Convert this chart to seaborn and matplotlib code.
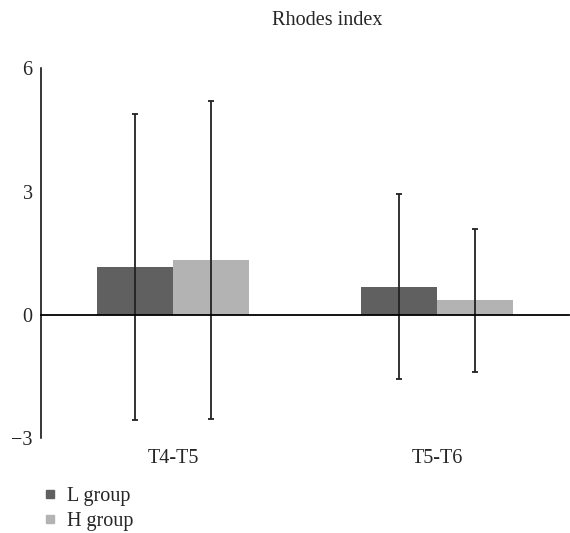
import numpy as np
import pandas as pd
import matplotlib
matplotlib.use("Agg")
import matplotlib.pyplot as plt
import seaborn as sns

sns.set_style("white")
plt.rcParams["font.family"] = ["Liberation Serif", "DejaVu Serif"]

periods = ["T4-T5", "T5-T6"]
groups = ["L group", "H group"]
l_mean = [1.17, 0.68]
h_mean = [1.33, 0.36]
l_sd = [3.72, 2.25]
h_sd = [3.87, 1.74]

df = pd.DataFrame({
    "period": periods * 2,
    "group": [groups[0]] * 2 + [groups[1]] * 2,
    "value": l_mean + h_mean,
})
sds = l_sd + h_sd

fs = 14.5

fig = plt.figure(figsize=(5.7, 5.33), dpi=100)
ax = fig.add_axes([0.072, 0.178, 0.926, 0.694])

sns.barplot(data=df, x="period", y="value", hue="group", order=periods,
            hue_order=groups, palette=["#606060", "#b3b3b3"], width=0.575,
            errorbar=None, edgecolor="none", saturation=1, ax=ax, legend=False)

# error bars at bar centres (patches come in hue order)
bars = ax.patches[:4]
xs = [b.get_x() + b.get_width() / 2 for b in bars]
ys = [b.get_height() for b in bars]
ax.errorbar(xs, ys, yerr=sds, fmt="none", ecolor="#222222", elinewidth=1.3,
            capsize=2, capthick=1.3)

ax.set_xlim(-0.5, 1.5)
ax.set_ylim(-3, 6)
ax.set_yticks([6, 3, 0, -3])
ax.set_yticklabels(["6", "3", "0", "\u22123"], fontsize=fs)
ax.tick_params(axis="y", length=0, pad=6)

for s in ["top", "right"]:
    ax.spines[s].set_visible(False)
ax.spines["left"].set_color("black")
ax.spines["left"].set_linewidth(1.1)
ax.spines["bottom"].set_position(("data", 0))
ax.spines["bottom"].set_color("black")
ax.spines["bottom"].set_linewidth(1.3)
ax.set_xticks([-0.5, 0.5, 1.5])
ax.set_xticklabels([])
ax.tick_params(axis="x", direction="out", length=3, width=1.2, color="black")

sec = ax.secondary_xaxis("bottom")
sec.set_xticks([0, 1])
sec.set_xticklabels(periods, fontsize=fs)
sec.tick_params(length=0, pad=8)
sec.spines["bottom"].set_visible(False)

ax.set_xlabel("")
ax.set_ylabel("")

fig.text(0.574, 0.961, "Rhodes index", ha="center", va="center", fontsize=fs)

handles = [plt.Line2D([], [], marker="s", linestyle="none", markersize=5.5,
                      color=c) for c in ["#606060", "#b3b3b3"]]
fig.legend(handles, groups, loc="upper left", bbox_to_anchor=(0.074, 0.086),
           frameon=False, fontsize=fs, handletextpad=0.45, labelspacing=0.28,
           handlelength=0.8, borderaxespad=0, borderpad=0)

fig.savefig("out.png", dpi=100)
